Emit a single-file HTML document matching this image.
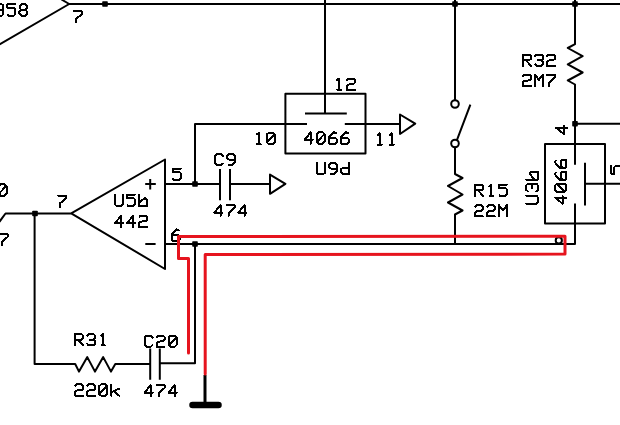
<!DOCTYPE html>
<html><head><meta charset="utf-8"><style>
html,body{margin:0;padding:0;background:#fff;width:620px;height:425px;overflow:hidden}
svg{display:block}
</style></head><body>
<svg width="620" height="425" viewBox="0 0 620 425">
<rect width="620" height="425" fill="#fff"/>
<g fill="none" stroke="#000" stroke-width="2.0" stroke-linecap="square" stroke-linejoin="round">
<path d="M69.2 4 L620 4 M62.3 0 L69.2 4 L0 44.1 M325 0 L325 113.5 M455 0 L455 100 M470 105.6 L457.2 139.4 M455 147.5 L455 174 L462.5 178 L448 186 L462.5 194.5 L448 202.5 L462.5 210.5 L455 214.5 L455 244 M575 0 L575 44.2 L567.8 48 L582.6 56.2 L567.8 64.4 L582.6 72.5 L567.8 80.5 L575 84.5 L575 163.8 M575 123.8 L620 123.8 M545 143.9 L605 143.9 L605 223.5 L545 223.5 Z M585 163.8 L585 204.4 M585 183.8 L620 183.8 M575 204.4 L575 244 L165 244 M285.4 93.8 L365.5 93.8 L365.5 153.5 L285.4 153.5 Z M306 113.5 L345.8 113.5 M195 184 L195 124 L306 124 M345.8 124 L400 124 M400 114.5 L415.2 123.7 L400 134 Z M165 159.5 L71.2 213.3 L165 269 Z M165 184 L220 184 M220 170 L220 199.3 M230 170 L230 199.3 M230 184 L270 184 M270 174.6 L285.4 183.8 L270 193.8 Z M146.2 184 L154.8 184 M150.2 180 L150.2 188.6 M146.3 244 L154.6 244 M0 221 L5.5 213.5 L71.2 213.5 M34.6 213.5 L34.6 364 L75.2 364 L79 371.6 L87.3 357.1 L95 371.6 L103.2 357.1 L111 371.6 L115.3 364 L150.2 364 M150.2 349.4 L150.2 378.8 M159.8 349.4 L159.8 378.8 M159.8 363.3 L195 363.3 L195 244"/>
</g>
<g fill="none" stroke="#000" stroke-width="2">
<circle cx="455" cy="104" r="3.8"/>
<circle cx="455" cy="143.5" r="3.8"/>
</g>
<g fill="#000"><rect x="102.2" y="1.2000000000000002" width="5.6" height="5.6" rx="0.8"/><rect x="452.2" y="1.2000000000000002" width="5.6" height="5.6" rx="0.8"/><rect x="572.2" y="1.2000000000000002" width="5.6" height="5.6" rx="0.8"/><rect x="572.2" y="121.0" width="5.6" height="5.6" rx="0.8"/><rect x="192.2" y="181.2" width="5.6" height="5.6" rx="0.8"/><rect x="32.2" y="210.7" width="5.6" height="5.6" rx="0.8"/><rect x="192.2" y="241.2" width="5.6" height="5.6" rx="0.8"/></g>
<path d="M205 375 L205 404" stroke="#000" stroke-width="3" fill="none"/>
<path d="M192.5 405 L218.5 405" stroke="#000" stroke-width="6.5" stroke-linecap="round" fill="none"/>
<g fill="none" stroke="#000" stroke-width="2.0" stroke-linecap="round" stroke-linejoin="round" shape-rendering="crispEdges">
<path d="M-4.30 5.71 L-3.10 4.30 L1.90 4.30 L3.40 5.71 L3.40 8.53 L1.90 9.94 L-1.60 9.94 M1.90 9.94 L3.40 11.35 L3.40 14.17 L1.90 15.58 L-3.10 15.58 L-4.30 14.17 M15.40 4.30 L7.40 4.30 L7.40 7.59 L13.90 7.59 L15.40 9.19 L15.40 14.17 L13.90 15.58 L7.90 15.58 L7.90 14.45 M21.70 4.30 L25.10 4.30 L26.90 5.99 L26.90 8.25 L25.40 9.94 L21.40 9.94 L19.90 8.25 L19.90 5.99 L21.70 4.30 M21.40 9.94 L19.40 11.82 L19.40 13.70 L21.40 15.58 L25.40 15.58 L27.40 13.70 L27.40 11.82 L25.40 9.94 M73.80 11.30 L81.80 11.30 L81.80 14.12 L75.80 19.29 L75.80 22.58 M337.10 80.10 L338.80 78.50 L338.80 89.78 M337.30 89.78 L340.80 89.78 M347.10 79.91 L348.30 78.50 L353.30 78.50 L354.80 79.91 L354.80 82.73 L353.30 84.14 L348.30 84.61 L346.80 86.02 L346.80 89.78 L354.80 89.78 M257.00 134.40 L258.70 132.80 L258.70 144.08 M257.20 144.08 L260.70 144.08 M268.70 132.80 L272.70 132.80 L274.70 134.68 L274.70 142.20 L272.70 144.08 L268.70 144.08 L266.70 142.20 L266.70 134.68 L268.70 132.80 M267.20 142.20 L274.20 134.68 M310.70 132.30 L304.70 139.82 L312.70 139.82 M310.70 132.30 L310.70 143.58 M318.70 132.30 L322.70 132.30 L324.70 134.18 L324.70 141.70 L322.70 143.58 L318.70 143.58 L316.70 141.70 L316.70 134.18 L318.70 132.30 M317.20 141.70 L324.20 134.18 M335.70 133.05 L333.90 132.30 L328.70 136.81 L328.70 142.64 L329.70 143.58 L335.70 143.58 L336.70 142.64 L336.70 139.35 L335.50 137.94 L330.20 137.94 L328.70 139.82 M347.70 133.05 L345.90 132.30 L340.70 136.81 L340.70 142.64 L341.70 143.58 L347.70 143.58 L348.70 142.64 L348.70 139.35 L347.50 137.94 L342.20 137.94 L340.70 139.82 M377.90 135.10 L379.60 133.50 L379.60 144.78 M378.10 144.78 L381.60 144.78 M389.90 135.10 L391.60 133.50 L391.60 144.78 M390.10 144.78 L393.60 144.78 M316.90 162.90 L316.90 172.77 L318.40 174.18 L323.40 174.18 L324.90 172.77 L324.90 162.90 M336.90 168.54 L330.90 168.54 L328.90 166.66 L328.90 164.78 L330.90 162.90 L334.90 162.90 L336.90 164.78 L336.90 170.89 L333.40 174.18 L330.90 174.18 M348.90 162.90 L348.90 174.18 L342.90 174.18 L340.90 172.30 L340.90 169.48 L342.90 167.60 L348.90 167.60 M223.00 155.88 L221.00 154.00 L217.00 154.00 L215.00 155.88 L215.00 163.40 L217.00 165.28 L221.00 165.28 L223.00 163.40 M235.00 159.64 L229.00 159.64 L227.00 157.76 L227.00 155.88 L229.00 154.00 L233.00 154.00 L235.00 155.88 L235.00 161.99 L231.50 165.28 L229.00 165.28 M220.50 205.00 L214.50 212.52 L222.50 212.52 M220.50 205.00 L220.50 216.28 M226.50 205.00 L234.50 205.00 L234.50 207.82 L228.50 212.99 L228.50 216.28 M244.50 205.00 L238.50 212.52 L246.50 212.52 M244.50 205.00 L244.50 216.28 M180.80 168.50 L172.80 168.50 L172.80 171.79 L179.30 171.79 L180.80 173.39 L180.80 178.37 L179.30 179.78 L173.30 179.78 L173.30 178.65 M115.00 194.60 L115.00 204.47 L116.50 205.88 L121.50 205.88 L123.00 204.47 L123.00 194.60 M135.00 194.60 L127.00 194.60 L127.00 197.89 L133.50 197.89 L135.00 199.49 L135.00 204.47 L133.50 205.88 L127.50 205.88 L127.50 204.75 M139.00 194.60 L139.00 205.88 L147.00 205.88 L147.00 199.77 L145.00 197.89 L139.00 202.59 M121.20 215.50 L115.20 223.02 L123.20 223.02 M121.20 215.50 L121.20 226.78 M133.20 215.50 L127.20 223.02 L135.20 223.02 M133.20 215.50 L133.20 226.78 M139.50 216.91 L140.70 215.50 L145.70 215.50 L147.20 216.91 L147.20 219.73 L145.70 221.14 L140.70 221.61 L139.20 223.02 L139.20 226.78 L147.20 226.78 M178.70 230.15 L176.90 229.40 L171.70 233.91 L171.70 239.74 L172.70 240.68 L178.70 240.68 L179.70 239.74 L179.70 236.45 L178.50 235.04 L173.20 235.04 L171.70 236.92 M57.90 195.50 L65.90 195.50 L65.90 198.32 L59.90 203.49 L59.90 206.78 M0.50 184.30 L4.50 184.30 L6.50 186.18 L6.50 193.70 L4.50 195.58 L0.50 195.58 L-1.50 193.70 L-1.50 186.18 L0.50 184.30 M-1.00 193.70 L6.00 186.18 M-0.40 234.10 L7.60 234.10 L7.60 236.92 L1.60 242.09 L1.60 245.38 M522.90 65.78 L522.90 54.50 L529.40 54.50 L530.90 55.91 L530.90 58.73 L529.40 60.14 L522.90 60.14 M525.90 60.14 L530.90 65.78 M535.20 55.91 L536.40 54.50 L541.40 54.50 L542.90 55.91 L542.90 58.73 L541.40 60.14 L537.90 60.14 M541.40 60.14 L542.90 61.55 L542.90 64.37 L541.40 65.78 L536.40 65.78 L535.20 64.37 M547.20 55.91 L548.40 54.50 L553.40 54.50 L554.90 55.91 L554.90 58.73 L553.40 60.14 L548.40 60.61 L546.90 62.02 L546.90 65.78 L554.90 65.78 M523.20 76.11 L524.40 74.70 L529.40 74.70 L530.90 76.11 L530.90 78.93 L529.40 80.34 L524.40 80.81 L522.90 82.22 L522.90 85.98 L530.90 85.98 M534.90 85.98 L534.90 74.70 L538.90 79.87 L542.90 74.70 L542.90 85.98 M546.90 74.70 L554.90 74.70 L554.90 77.52 L548.90 82.69 L548.90 85.98 M475.00 195.88 L475.00 184.60 L481.50 184.60 L483.00 186.01 L483.00 188.83 L481.50 190.24 L475.00 190.24 M478.00 190.24 L483.00 195.88 M489.30 186.20 L491.00 184.60 L491.00 195.88 M489.50 195.88 L493.00 195.88 M507.00 184.60 L499.00 184.60 L499.00 187.89 L505.50 187.89 L507.00 189.49 L507.00 194.47 L505.50 195.88 L499.50 195.88 L499.50 194.75 M475.30 206.61 L476.50 205.20 L481.50 205.20 L483.00 206.61 L483.00 209.43 L481.50 210.84 L476.50 211.31 L475.00 212.72 L475.00 216.48 L483.00 216.48 M487.30 206.61 L488.50 205.20 L493.50 205.20 L495.00 206.61 L495.00 209.43 L493.50 210.84 L488.50 211.31 L487.00 212.72 L487.00 216.48 L495.00 216.48 M499.00 216.48 L499.00 205.20 L503.00 210.37 L507.00 205.20 L507.00 216.48 M75.10 345.38 L75.10 334.10 L81.60 334.10 L83.10 335.51 L83.10 338.33 L81.60 339.74 L75.10 339.74 M78.10 339.74 L83.10 345.38 M87.40 335.51 L88.60 334.10 L93.60 334.10 L95.10 335.51 L95.10 338.33 L93.60 339.74 L90.10 339.74 M93.60 339.74 L95.10 341.15 L95.10 343.97 L93.60 345.38 L88.60 345.38 L87.40 343.97 M101.40 335.70 L103.10 334.10 L103.10 345.38 M101.60 345.38 L105.10 345.38 M75.40 385.81 L76.60 384.40 L81.60 384.40 L83.10 385.81 L83.10 388.63 L81.60 390.04 L76.60 390.51 L75.10 391.92 L75.10 395.68 L83.10 395.68 M87.40 385.81 L88.60 384.40 L93.60 384.40 L95.10 385.81 L95.10 388.63 L93.60 390.04 L88.60 390.51 L87.10 391.92 L87.10 395.68 L95.10 395.68 M101.10 384.40 L105.10 384.40 L107.10 386.28 L107.10 393.80 L105.10 395.68 L101.10 395.68 L99.10 393.80 L99.10 386.28 L101.10 384.40 M99.60 393.80 L106.60 386.28 M111.10 384.40 L111.10 395.68 M119.10 388.63 L111.10 392.39 M114.10 390.98 L119.10 395.68 M152.60 337.48 L150.60 335.60 L146.60 335.60 L144.60 337.48 L144.60 345.00 L146.60 346.88 L150.60 346.88 L152.60 345.00 M156.90 337.01 L158.10 335.60 L163.10 335.60 L164.60 337.01 L164.60 339.83 L163.10 341.24 L158.10 341.71 L156.60 343.12 L156.60 346.88 L164.60 346.88 M170.60 335.60 L174.60 335.60 L176.60 337.48 L176.60 345.00 L174.60 346.88 L170.60 346.88 L168.60 345.00 L168.60 337.48 L170.60 335.60 M169.10 345.00 L176.10 337.48 M150.60 385.20 L144.60 392.72 L152.60 392.72 M150.60 385.20 L150.60 396.48 M156.60 385.20 L164.60 385.20 L164.60 388.02 L158.60 393.19 L158.60 396.48 M174.60 385.20 L168.60 392.72 L176.60 392.72 M174.60 385.20 L174.60 396.48 M556.30 127.90 L563.82 133.90 L563.82 125.90 M556.30 127.90 L567.58 127.90 M555.00 197.60 L562.52 203.60 L562.52 195.60 M555.00 197.60 L566.28 197.60 M555.00 189.60 L555.00 185.60 L556.88 183.60 L564.40 183.60 L566.28 185.60 L566.28 189.60 L564.40 191.60 L556.88 191.60 L555.00 189.60 M564.40 191.10 L556.88 184.10 M555.75 172.60 L555.00 174.40 L559.51 179.60 L565.34 179.60 L566.28 178.60 L566.28 172.60 L565.34 171.60 L562.05 171.60 L560.64 172.80 L560.64 178.10 L562.52 179.60 M555.75 160.60 L555.00 162.40 L559.51 167.60 L565.34 167.60 L566.28 166.60 L566.28 160.60 L565.34 159.60 L562.05 159.60 L560.64 160.80 L560.64 166.10 L562.52 167.60 M526.40 203.60 L536.27 203.60 L537.68 202.10 L537.68 197.10 L536.27 195.60 L526.40 195.60 M527.81 191.30 L526.40 190.10 L526.40 185.10 L527.81 183.60 L530.63 183.60 L532.04 185.10 L532.04 188.60 M532.04 185.10 L533.45 183.60 L536.27 183.60 L537.68 185.10 L537.68 190.10 L536.27 191.30 M526.40 179.60 L537.68 179.60 L537.68 171.60 L531.57 171.60 L529.69 173.60 L534.39 179.60 M611.10 165.60 L611.10 173.60 L614.39 173.60 L614.39 167.10 L615.99 165.60 L620.97 165.60 L622.38 167.10 L622.38 173.10 L621.25 173.10"/>
</g>
<circle cx="558.8" cy="240.4" r="3.1" fill="#fff" stroke="#000" stroke-width="2"/>
<path d="M188.5 353 L188.5 258.5 L178.5 258.5 L178.5 236.5 L565 236.3 L565 254.1 L205.2 254.5 L205.2 374" fill="none" stroke="#e6141e" stroke-width="3" stroke-linejoin="round" stroke-linecap="round"/>
</svg>
</body></html>
